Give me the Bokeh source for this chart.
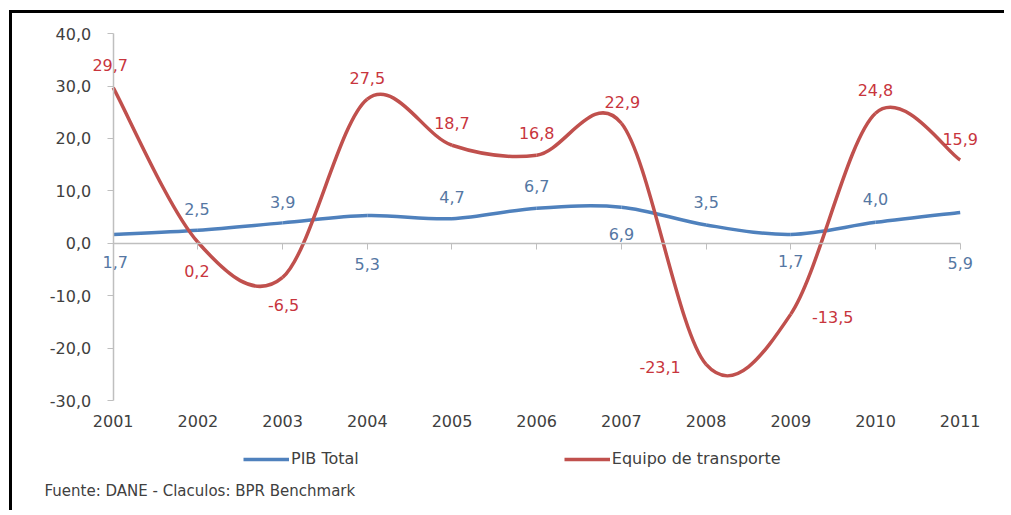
from bokeh.plotting import figure
from bokeh.models import (Range1d, LinearAxis, FixedTicker, CustomJSTickFormatter,
                          ColumnDataSource, LabelSet, Legend, LegendItem, Title)
from bokeh.core.properties import value
from bokeh.embed import file_html
from bokeh.resources import INLINE

# ---- data ----
years = [2001, 2002, 2003, 2004, 2005, 2006, 2007, 2008, 2009, 2010, 2011]
pib_total = [1.7, 2.5, 3.9, 5.3, 4.7, 6.7, 6.9, 3.5, 1.7, 4.0, 5.9]
equipo_transporte = [29.7, 0.2, -6.5, 27.5, 18.7, 16.8, 22.9, -23.1, -13.5, 24.8, 15.9]
y_ticks = [-30, -20, -10, 0, 10, 20, 30, 40]
series_names = ["PIB Total", "Equipo de transporte"]
footer_text = "Fuente: DANE  - Claculos: BPR Benchmark"

# label placement (screen pixel offsets, style only)
pib_dx = [2, -1, 0, 0, 0, 0, 0, 0, 0, 0, 0]
pib_dy = [-28, 21, 21, -48, 22, 22, -27, 23, -27, 23, -51]
eq_dx = [-3, -1, 1, 0, 0, 0, 1, -46, 42, 0, 0]
eq_dy = [23, -29, -28, 21, 22, 22, 21, -3, -3, 23, 21]

BLUE = "#4f81bd"
RED = "#c0504d"
BLUE_TXT = "#5577a3"
RED_TXT = "#c8353d"
TXT = "#404040"
AXIS = "#bfbfbf"
FONT = "DejaVu Sans"


def smooth(xs, ys):
    """Excel-like smoothed line: cubic Bezier segments with Catmull-Rom control points."""
    n = len(xs)
    seg = dict(x0=[], y0=[], x1=[], y1=[], cx0=[], cy0=[], cx1=[], cy1=[])
    for i in range(n - 1):
        p0 = i - 1 if i > 0 else i
        p3 = i + 2 if i + 2 < n else i + 1
        seg["x0"].append(xs[i]); seg["y0"].append(ys[i])
        seg["x1"].append(xs[i + 1]); seg["y1"].append(ys[i + 1])
        seg["cx0"].append(xs[i] + (xs[i + 1] - xs[p0]) / 6.0)
        seg["cy0"].append(ys[i] + (ys[i + 1] - ys[p0]) / 6.0)
        seg["cx1"].append(xs[i + 1] - (xs[p3] - xs[i]) / 6.0)
        seg["cy1"].append(ys[i + 1] - (ys[p3] - ys[i]) / 6.0)
    return ColumnDataSource(seg)


def fmt(v):
    return f"{v:.1f}".replace(".", ",")


p = figure(width=995, height=500, output_backend="svg", toolbar_location=None,
           x_axis_location=None, y_axis_location=None,
           x_range=Range1d(2000.0, 2011.464), y_range=Range1d(-43.33, 42.5),
           min_border_left=16, min_border_right=8, min_border_top=7,
           min_border_bottom=43)
p.styles = {"margin-left": "9px", "margin-top": "10px",
            "border-left": "3px solid black", "border-top": "3px solid black"}
p.outline_line_color = None
p.background_fill_color = "white"
p.border_fill_color = "white"
p.xgrid.visible = False
p.ygrid.visible = False

# y axis at the first category
y_axis = LinearAxis(fixed_location=years[0], bounds=(y_ticks[0], y_ticks[-1]),
                    ticker=FixedTicker(ticks=y_ticks),
                    formatter=CustomJSTickFormatter(code="return tick.toFixed(1).replace('.', ',');"),
                    axis_line_color=AXIS, axis_line_width=1.5,
                    major_tick_line_color=AXIS, major_tick_out=6, major_tick_in=0,
                    minor_tick_line_color=None,
                    major_label_text_font=FONT, major_label_text_font_size="16px",
                    major_label_text_color=TXT, major_label_standoff=16)
p.add_layout(y_axis, "left")

# category labels along the bottom of the value range
x_labels = LinearAxis(fixed_location=y_ticks[0], ticker=FixedTicker(ticks=years),
                      axis_line_color=None, major_tick_line_color=None,
                      minor_tick_line_color=None, major_tick_out=0,
                      major_label_text_font=FONT, major_label_text_font_size="16px",
                      major_label_text_color=TXT, major_label_standoff=14)
p.add_layout(x_labels, "below")

# zero line with category ticks
zero_axis = LinearAxis(fixed_location=0, bounds=(years[0], years[-1]),
                       ticker=FixedTicker(ticks=years),
                       formatter=CustomJSTickFormatter(code="return '';"),
                       axis_line_color=AXIS, axis_line_width=1.5,
                       major_tick_line_color=AXIS, major_tick_out=6, major_tick_in=0,
                       minor_tick_line_color=None)
p.add_layout(zero_axis, "below")

# smoothed lines
r_pib = p.bezier(x0="x0", y0="y0", x1="x1", y1="y1", cx0="cx0", cy0="cy0",
                 cx1="cx1", cy1="cy1", source=smooth(years, pib_total),
                 line_color=BLUE, line_width=3.5)
r_eq = p.bezier(x0="x0", y0="y0", x1="x1", y1="y1", cx0="cx0", cy0="cy0",
                cx1="cx1", cy1="cy1", source=smooth(years, equipo_transporte),
                line_color=RED, line_width=3.5)

# data labels
src_pib = ColumnDataSource(dict(x=years, y=pib_total, t=[fmt(v) for v in pib_total],
                                dx=pib_dx, dy=pib_dy))
src_eq = ColumnDataSource(dict(x=years, y=equipo_transporte,
                               t=[fmt(v) for v in equipo_transporte], dx=eq_dx, dy=eq_dy))
for src, col in ((src_pib, BLUE_TXT), (src_eq, RED_TXT)):
    p.add_layout(LabelSet(x="x", y="y", text="t", x_offset="dx", y_offset="dy", source=src,
                          text_align="center", text_baseline="middle",
                          text_font=value(FONT), text_font_size=value("16px"),
                          text_color=value(col)))

legend = Legend(items=[LegendItem(label=series_names[0], renderers=[r_pib]),
                       LegendItem(label=series_names[1], renderers=[r_eq])],
                orientation="horizontal", location=(215, 2), spacing=205,
                glyph_width=46, glyph_height=16, label_standoff=2,
                label_text_font=FONT, label_text_font_size="16px",
                label_text_color=TXT, border_line_color=None,
                background_fill_alpha=0, padding=0, margin=0)
p.add_layout(legend)

p.add_layout(Title(text=footer_text, align="left", offset=16, standoff=18, text_font=FONT,
                   text_font_size="15px", text_font_style="normal", text_color=TXT),
             "below")

open("out.html", "w").write(file_html(p, INLINE))
